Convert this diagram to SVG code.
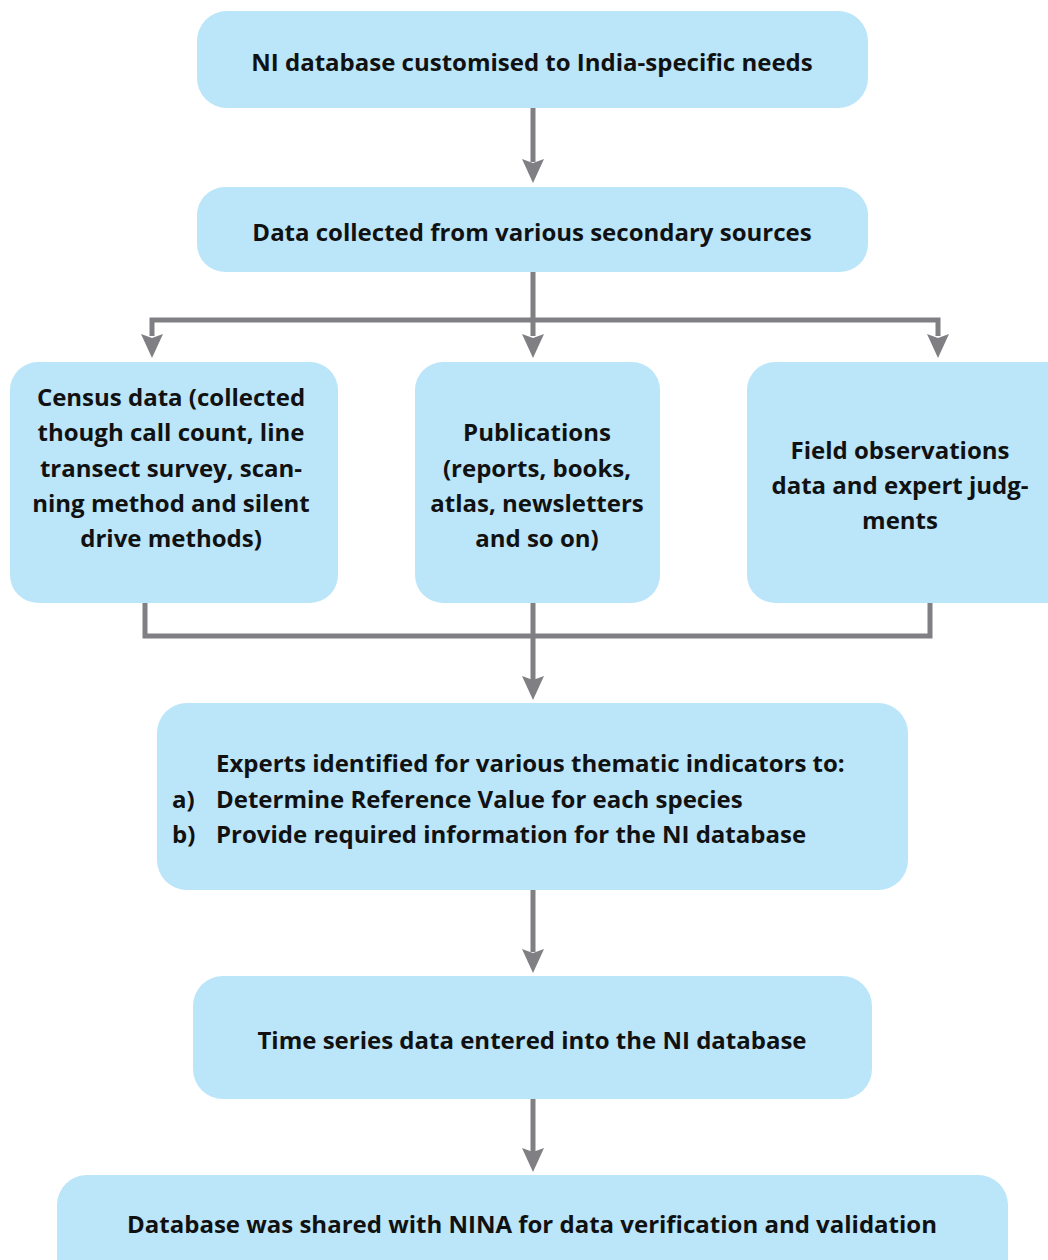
<svg xmlns="http://www.w3.org/2000/svg" width="1048" height="1260" viewBox="0 0 1048 1260">
<style>
.box{fill:#bbe5f9}
.t{font-family:"Open Sans","Noto Sans","DejaVu Sans",sans-serif;font-weight:bold;font-size:24px;fill:#111;text-anchor:middle}
.l{text-anchor:start}
.c{fill:none;stroke:#808084;stroke-width:5}
</style>
<defs>
<path id="arr" d="M-11,0 L0,4 L11,0 L0,24 Z" fill="#808084"/>
</defs>
<g id="connectors">
<path class="c" d="M533,108 V162"/>
<use href="#arr" x="533" y="159"/>
<path class="c" d="M533,272 V320 M152,336 V320 H938 V336 M533,320 V336"/>
<use href="#arr" x="152" y="334"/>
<use href="#arr" x="533" y="334"/>
<use href="#arr" x="938" y="334"/>
<path class="c" d="M145,603 V636 H930 V603 M533,603 V680"/>
<use href="#arr" x="533" y="676"/>
<path class="c" d="M533,890 V952"/>
<use href="#arr" x="533" y="949"/>
<path class="c" d="M533,1099 V1152"/>
<use href="#arr" x="533" y="1148"/>
</g>
<g id="n1"><rect class="box" x="197" y="11" width="671" height="97" rx="30"/>
<text class="t" x="532" y="71">NI database customised to India-specific needs</text></g>
<g id="n2"><rect class="box" x="197" y="187" width="671" height="85" rx="28"/>
<text class="t" x="532" y="241">Data collected from various secondary sources</text></g>
<g id="n3"><rect class="box" x="10" y="362" width="328" height="241" rx="28"/>
<text class="t" x="171" y="406">Census data (collected</text>
<text class="t" x="171" y="441">though call count, line</text>
<text class="t" x="171" y="477">transect survey, scan-</text>
<text class="t" x="171" y="512">ning method and silent</text>
<text class="t" x="171" y="547">drive methods)</text></g>
<g id="n4"><rect class="box" x="415" y="362" width="245" height="241" rx="28"/>
<text class="t" x="537" y="441">Publications</text>
<text class="t" x="537" y="477">(reports, books,</text>
<text class="t" x="537" y="512">atlas, newsletters</text>
<text class="t" x="537" y="547">and so on)</text></g>
<g id="n5"><rect class="box" x="747" y="362" width="330" height="241" rx="28"/>
<text class="t" x="900" y="459">Field observations</text>
<text class="t" x="900" y="494">data and expert judg-</text>
<text class="t" x="900" y="529">ments</text></g>
<g id="n6"><rect class="box" x="157" y="703" width="751" height="187" rx="30"/>
<text class="t l" x="216" y="772">Experts identified for various thematic indicators to:</text>
<text class="t l" x="172" y="808">a)</text>
<text class="t l" x="216" y="808">Determine Reference Value for each species</text>
<text class="t l" x="172" y="843">b)</text>
<text class="t l" x="216" y="843">Provide required information for the NI database</text></g>
<g id="n7"><rect class="box" x="193" y="976" width="679" height="123" rx="30"/>
<text class="t" x="532" y="1049">Time series data entered into the NI database</text></g>
<g id="n8"><rect class="box" x="57" y="1175" width="951" height="120" rx="30"/>
<text class="t" x="532" y="1233">Database was shared with NINA for data verification and validation</text></g>
</svg>
